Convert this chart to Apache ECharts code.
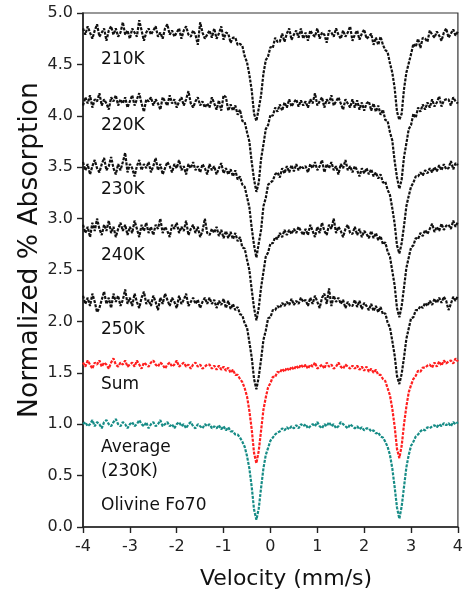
<!DOCTYPE html>
<html><head><meta charset="utf-8">
<script src="https://cdn.jsdelivr.net/npm/echarts/dist/echarts.min.js"></script>
<style>html,body{margin:0;padding:0;background:#fff}#c{width:466px;height:592px}</style>
</head><body><div id="c"></div>
<script>
// Velocity channels (mm/s)
const velocity = [
-4,-3.95,-3.9,-3.85,-3.8,-3.75,-3.7,-3.65,-3.6,-3.55,
-3.5,-3.45,-3.4,-3.35,-3.3,-3.25,-3.2,-3.15,-3.1,-3.05,
-3,-2.95,-2.9,-2.85,-2.8,-2.75,-2.7,-2.65,-2.6,-2.55,
-2.5,-2.45,-2.4,-2.35,-2.3,-2.25,-2.2,-2.15,-2.1,-2.05,
-2,-1.95,-1.9,-1.85,-1.8,-1.75,-1.7,-1.65,-1.6,-1.55,
-1.5,-1.45,-1.4,-1.35,
-1.3,-1.25,-1.2,-1.15,-1.1,-1.05,-1,-0.95,-0.9,-0.85,
-0.8,-0.75,-0.7,-0.65,-0.6,-0.55,-0.5,-0.45,-0.4,-0.35,
-0.3,-0.25,-0.2,-0.15,-0.1,-0.05,0,0.05,0.1,0.15,
0.2,0.25,0.3,0.35,0.4,0.45,0.5,0.55,0.6,0.65,
0.7,
0.75,0.8,0.85,0.9,0.95,1,1.05,1.1,1.15,1.2,
1.25,1.3,1.35,1.4,1.45,1.5,1.55,1.6,1.65,1.7,
1.75,1.8,1.85,1.9,1.95,2,2.05,2.1,2.15,2.2,
2.25,2.3,2.35,2.4,2.45,2.5,2.55,2.6,2.65,2.7,
2.75,2.8,2.85,2.9,2.95,3,3.05,3.1,3.15,3.2,
3.25,3.3,3.35,3.4,3.45,3.5,3.55,3.6,3.65,3.7,
3.75,
3.8,3.85,3.9,3.95,4
];

const t210 = [
4.85,4.79,4.87,4.81,4.75,4.83,4.89,4.77,4.81,4.85,
4.73,4.83,4.87,4.79,4.85,4.77,4.81,4.91,4.79,4.83,
4.75,4.85,4.81,4.77,4.93,4.83,4.73,4.81,4.85,4.79,
4.83,4.87,4.77,4.81,4.75,4.85,4.89,4.79,4.83,4.77,
4.81,4.85,4.75,4.83,4.87,4.79,4.77,4.83,4.79,4.69,
4.91,4.81,4.75,4.79,
4.83,4.76,4.85,4.75,4.80,4.87,4.74,4.81,4.80,4.71,
4.76,4.76,4.69,4.70,4.68,4.58,4.52,4.40,4.25,4.02,
3.95,
4.07,4.20,4.41,4.54,4.58,4.67,4.66,4.76,4.72,
4.72,4.80,4.72,4.80,4.85,4.74,4.79,4.83,4.76,4.85,4.75,
4.81,4.73,4.83,4.79,4.77,4.85,4.75,4.81,4.79,4.71,
4.83,4.81,4.77,4.85,4.79,4.75,4.83,4.77,4.81,4.87,
4.73,4.79,4.83,4.74,4.80,4.84,4.75,4.77,4.80,4.69,
4.76,4.69,4.77,4.69,4.64,4.62,4.51,4.42,4.27,4.04,
3.96,
4.02,4.26,4.42,4.51,4.60,4.70,4.67,4.75,4.66,
4.76,4.75,4.72,4.83,4.79,4.76,4.82,4.78,4.73,4.81,4.85,
4.76,4.80,4.84,4.78,4.82
];

const t220 = [
4.10,4.18,4.12,4.20,4.08,4.16,4.14,4.22,4.10,4.16,
4.12,4.06,4.18,4.14,4.20,4.10,4.16,4.12,4.18,4.08,
4.14,4.20,4.10,4.16,4.22,4.12,4.04,4.16,4.14,4.18,
4.10,4.16,4.12,4.06,4.18,4.14,4.10,4.20,4.12,4.16,
4.08,4.14,4.18,4.10,4.16,4.24,4.12,4.08,4.14,4.18,
4.10,4.14,4.08,4.12,
4.08,4.18,4.12,4.06,4.15,4.05,4.20,4.18,4.05,4.11,
4.05,4.10,4.01,4.06,3.95,3.94,3.84,3.75,3.55,3.38,
3.26,
3.35,3.58,3.72,3.87,3.91,4.01,4.00,4.08,4.04,
4.11,4.05,4.13,4.08,4.16,4.09,4.13,4.16,4.09,4.15,4.10,
4.14,4.08,4.16,4.12,4.22,4.10,4.14,4.18,4.08,4.16,
4.12,4.20,4.10,4.14,4.18,4.12,4.06,4.16,4.12,4.08,
4.16,4.08,4.15,4.06,4.13,4.05,4.12,4.14,4.05,4.12,
4.04,4.10,4.01,4.06,3.96,3.95,3.84,3.76,3.56,3.40,
3.29,
3.38,3.60,3.73,3.87,3.91,4.02,3.98,4.08,4.04,
4.11,4.06,4.13,4.08,4.16,4.09,4.13,4.19,4.09,4.15,4.16,
4.16,4.10,4.18,4.14,4.12
];

const t230 = [
3.55,3.47,3.53,3.43,3.51,3.57,3.49,3.45,3.53,3.59,
3.47,3.51,3.60,3.49,3.43,3.53,3.47,3.55,3.64,3.45,
3.53,3.49,3.41,3.51,3.57,3.47,3.53,3.49,3.55,3.45,
3.51,3.59,3.47,3.53,3.43,3.49,3.55,3.51,3.45,3.53,
3.49,3.57,3.47,3.51,3.43,3.53,3.49,3.55,3.47,3.51,
3.45,3.53,3.49,3.43,
3.53,3.47,3.51,3.43,3.49,3.54,3.44,3.49,3.43,3.48,
3.41,3.47,3.38,3.41,3.33,3.31,3.21,3.11,2.91,2.74,
2.62,
2.76,2.89,3.12,3.20,3.33,3.35,3.37,3.43,3.45,
3.40,3.49,3.44,3.51,3.45,3.52,3.46,3.53,3.47,3.51,3.49,
3.51,3.45,3.53,3.49,3.55,3.47,3.51,3.57,3.45,3.53,
3.49,3.55,3.47,3.51,3.43,3.53,3.49,3.57,3.47,3.51,
3.45,3.51,3.47,3.41,3.49,3.44,3.49,3.43,3.48,3.41,
3.45,3.39,3.43,3.35,3.36,3.28,3.23,3.10,2.95,2.74,
2.66,
2.76,2.93,3.12,3.22,3.31,3.35,3.41,3.41,3.45,
3.42,3.47,3.44,3.49,3.45,3.50,3.46,3.52,3.47,3.53,3.48,
3.49,3.56,3.48,3.54,3.52
];

const t240 = [
2.94,2.86,2.92,2.82,2.96,2.88,3.00,2.90,2.84,2.94,
2.88,2.98,2.86,2.92,2.82,2.90,2.96,2.88,2.94,2.84,
2.92,2.86,2.98,2.90,2.82,2.94,2.88,2.96,2.86,2.92,
2.84,2.94,2.90,3.00,2.86,2.92,2.88,2.82,2.94,2.90,
2.96,2.86,2.92,2.88,2.98,2.84,2.90,2.94,2.86,2.92,
2.82,2.88,3.00,2.86,
2.84,2.90,2.86,2.92,2.83,2.89,2.81,2.88,2.81,2.87,
2.80,2.86,2.78,2.82,2.72,2.71,2.60,2.50,2.31,2.13,
2.01,
2.13,2.33,2.48,2.63,2.67,2.76,2.76,2.82,2.80,
2.86,2.82,2.89,2.84,2.89,2.85,2.90,2.86,2.92,2.88,2.84,
2.90,2.84,2.94,2.88,2.82,2.92,2.86,2.96,2.88,2.84,
2.94,2.90,3.00,2.86,2.92,2.88,2.82,2.90,2.94,2.86,
2.85,2.92,2.84,2.90,2.82,2.88,2.85,2.81,2.88,2.81,
2.86,2.79,2.83,2.75,2.77,2.68,2.63,2.49,2.35,2.13,
2.04,
2.15,2.33,2.52,2.62,2.72,2.74,2.81,2.80,2.86,
2.83,2.89,2.85,2.90,2.95,2.87,2.92,2.88,2.95,2.89,2.93,
2.94,2.90,2.98,2.92,2.97
];

const t250 = [
2.25,2.17,2.23,2.15,2.27,2.19,2.09,2.13,2.21,2.29,
2.17,2.23,2.13,2.27,2.19,2.25,2.15,2.21,2.31,2.17,
2.23,2.15,2.27,2.19,2.13,2.23,2.29,2.17,2.21,2.15,
2.25,2.19,2.11,2.23,2.17,2.27,2.21,2.15,2.23,2.19,
2.13,2.25,2.17,2.21,2.27,2.15,2.19,2.23,2.17,2.21,
2.13,2.19,2.23,2.17,
2.23,2.17,2.21,2.13,2.20,2.16,2.22,2.13,2.20,2.12,
2.17,2.11,2.14,2.07,2.06,1.98,1.94,1.80,1.65,1.44,
1.34,
1.46,1.63,1.82,1.91,2.03,2.04,2.11,2.11,2.15,
2.13,2.18,2.15,2.19,2.16,2.22,2.16,2.20,2.17,2.23,2.19,
2.21,2.15,2.23,2.17,2.25,2.19,2.13,2.23,2.27,2.17,
2.32,2.15,2.25,2.19,2.23,2.17,2.21,2.13,2.19,2.15,
2.15,2.21,2.14,2.20,2.12,2.18,2.15,2.11,2.17,2.10,
2.15,2.09,2.14,2.07,2.08,1.99,1.94,1.81,1.67,1.47,
1.39,
1.49,1.65,1.83,1.93,2.03,2.04,2.11,2.11,2.15,
2.13,2.18,2.15,2.20,2.16,2.22,2.18,2.23,2.18,2.24,2.20,
2.11,2.17,2.24,2.20,2.25
];

const sumTrace = [
1.60,1.56,1.62,1.58,1.54,1.60,1.58,1.62,1.56,1.60,
1.58,1.54,1.60,1.64,1.58,1.56,1.60,1.58,1.62,1.56,
1.58,1.60,1.56,1.62,1.58,1.54,1.60,1.58,1.56,1.60,
1.62,1.58,1.56,1.60,1.58,1.54,1.58,1.60,1.56,1.58,
1.62,1.56,1.58,1.60,1.56,1.58,1.54,1.58,1.60,1.56,
1.58,1.54,1.56,1.58,
1.58,1.54,1.57,1.53,1.57,1.53,1.56,1.52,1.55,1.50,
1.53,1.48,1.48,1.44,1.41,1.35,1.27,1.13,0.95,0.72,
0.62,
0.74,0.94,1.14,1.26,1.36,1.40,1.46,1.46,1.51,
1.50,1.54,1.51,1.55,1.52,1.56,1.53,1.57,1.54,1.58,1.55,
1.58,1.54,1.58,1.56,1.60,1.54,1.56,1.58,1.54,1.60,
1.56,1.58,1.54,1.56,1.60,1.56,1.54,1.58,1.56,1.54,
1.57,1.54,1.57,1.53,1.56,1.52,1.56,1.51,1.54,1.50,
1.53,1.48,1.48,1.44,1.42,1.35,1.28,1.15,0.98,0.76,
0.67,
0.79,1.00,1.17,1.31,1.38,1.44,1.47,1.52,1.51,
1.55,1.55,1.57,1.58,1.55,1.60,1.56,1.61,1.57,1.62,1.59,
1.61,1.62,1.59,1.64,1.61
];

const avgTrace = [
1.00,1.02,0.98,1.00,1.04,0.98,1.02,1.00,0.96,1.02,
1.04,1.00,0.98,1.02,1.05,1.00,0.98,1.02,1.00,0.96,
1.00,1.02,0.98,1.00,1.04,1.00,0.98,1.02,0.96,1.00,
1.02,0.98,1.00,1.04,0.98,1.00,1.02,0.98,1.00,0.96,
1.00,1.02,0.98,1.00,0.96,1.00,1.02,0.98,0.96,1.00,
0.98,0.96,1.00,0.98,
1.00,0.96,0.98,0.96,0.99,0.95,0.98,0.94,0.97,0.93,
0.93,0.90,0.90,0.87,0.83,0.78,0.69,0.57,0.39,0.17,
0.07,
0.18,0.38,0.57,0.70,0.77,0.84,0.87,0.90,0.92,
0.93,0.96,0.94,0.97,0.95,0.98,0.96,0.99,0.96,1.00,0.98,
1.00,0.96,0.98,1.00,0.98,1.02,0.98,0.96,1.00,0.98,
1.02,0.98,1.00,0.96,0.98,1.02,1.00,0.98,0.96,1.00,
0.98,0.96,0.98,0.95,0.97,0.94,0.96,0.96,0.93,0.94,
0.91,0.92,0.88,0.87,0.83,0.78,0.70,0.57,0.39,0.19,
0.08,
0.20,0.39,0.58,0.70,0.79,0.83,0.88,0.90,0.93,
0.95,0.94,0.97,0.96,0.98,0.99,0.97,1.00,0.98,1.01,0.99,
1.01,0.98,1.02,1.00,1.02
];

const traceNames = ['210K','220K','230K','240K','250K','Sum','Average (230K)'];
const traceValues = [t210, t220, t230, t240, t250, sumTrace, avgTrace];
const traceColors = ['#111','#111','#111','#111','#111','#ff1f1f','#178c86'];
const labelTexts = ['210K','220K','230K','240K','250K','Sum','Average','(230K)','Olivine Fo70'];
const labelTops = [61, 127.5, 191, 257.5, 331, 386, 449, 473, 507.5];

const FONT = 'DejaVu Sans';
const chart = echarts.init(document.getElementById('c'), null, {renderer: 'canvas'});

const series = traceValues.map((vals, k) => ({
  name: traceNames[k],
  type: 'line',
  data: velocity.map((v, i) => [v, vals[i]]),
  showSymbol: false,
  symbol: 'none',
  animation: false,
  lineStyle: {color: traceColors[k], width: 2.2, type: [3, 1.3]},
  z: 3
}));

const graphics = labelTexts.map((t, k) => ({
  type: 'text', left: 101, top: labelTops[k] - 10,
  style: {text: t, font: '17px "DejaVu Sans"', fill: '#111'}
}));
graphics.push({
  type: 'text', x: 30, y: 250, rotation: Math.PI / 2,
  style: {text: 'Normalized % Absorption', font: '26.5px "DejaVu Sans"', fill: '#111',
          textAlign: 'center', textVerticalAlign: 'middle'}
});
graphics.push({
  type: 'text', x: 286, y: 579,
  style: {text: 'Velocity (mm/s)', font: '22px "DejaVu Sans"', fill: '#111',
          textAlign: 'center', textVerticalAlign: 'middle'}
});

chart.setOption({
  animation: false,
  backgroundColor: '#fff',
  grid: {left: 83, right: 4, top: 13, bottom: 65, show: true, borderColor: '#333', borderWidth: 1.2, backgroundColor: 'transparent'},
  xAxis: {
    type: 'value', min: -4, max: 4, interval: 1,
    axisLine: {onZero: false, lineStyle: {color: '#222', width: 1.6}},
    axisTick: {length: 6, lineStyle: {color: '#222', width: 1.4}},
    axisLabel: {fontSize: 16, fontFamily: FONT, color: '#222', margin: 12},
    splitLine: {show: false}
  },
  yAxis: {
    type: 'value', min: 0, max: 5, interval: 0.5,
    axisLine: {show: true, onZero: false, lineStyle: {color: '#222', width: 1.6}},
    axisTick: {show: true, length: 6, lineStyle: {color: '#222', width: 1.4}},
    axisLabel: {fontSize: 16, fontFamily: FONT, color: '#222', margin: 10, formatter: v => v.toFixed(1)},
    splitLine: {show: false}
  },
  graphic: graphics,
  series: series
});
</script>
</body></html>
